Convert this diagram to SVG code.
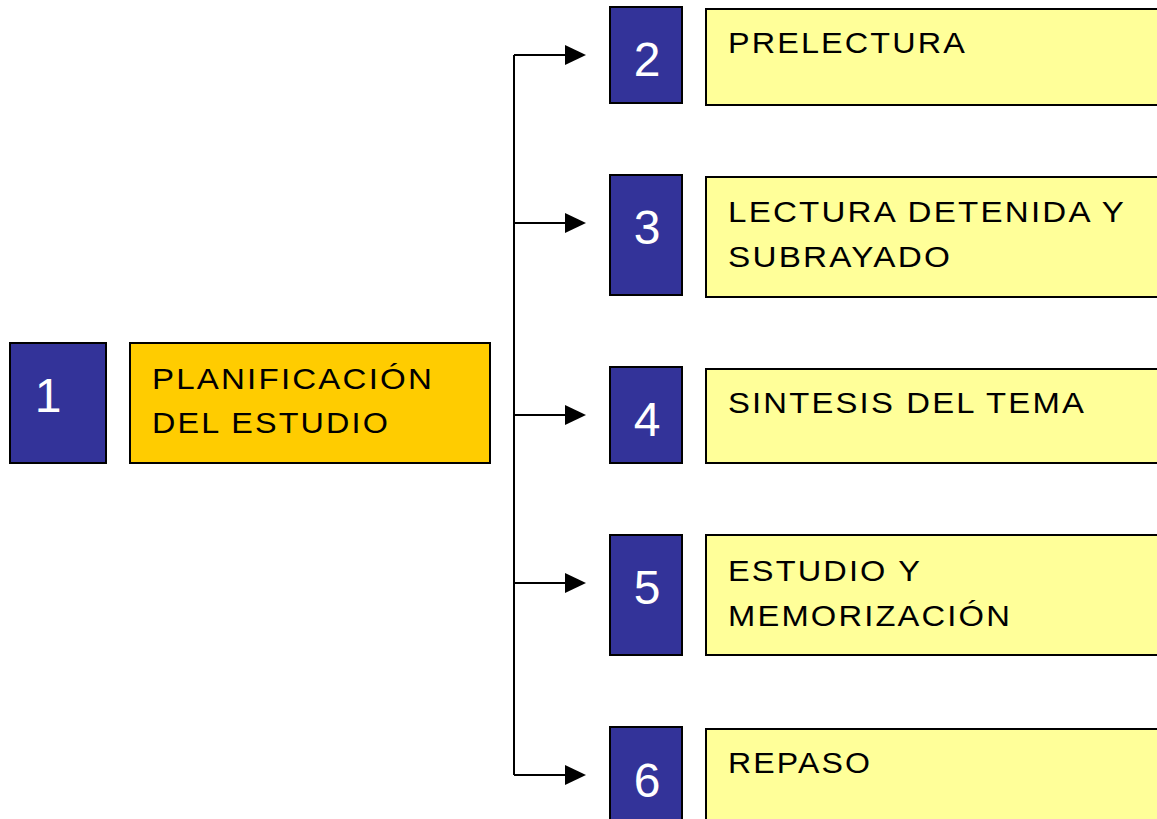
<svg xmlns="http://www.w3.org/2000/svg" width="1157" height="819" viewBox="0 0 1157 819">
<style>
.num{fill:#333399;stroke:#000;stroke-width:2}
.box{fill:#FFFF99;stroke:#000;stroke-width:2}
.main{fill:#FFCC00;stroke:#000;stroke-width:2}
.n{font-family:"Liberation Sans",Arial,sans-serif;font-size:48px;fill:#fff;text-anchor:middle}
.t{font-family:"Liberation Sans",Arial,sans-serif;font-size:30px;fill:#000;letter-spacing:2px}
.c{fill:none;stroke:#000;stroke-width:2}
</style>
<rect width="1157" height="819" fill="#fff"/>
<g id="connectors">
<path class="c" d="M514,55 V775"/>
<path class="c" d="M514,55 H566"/><path d="M565,45 L586,55 L565,65 z"/>
<path class="c" d="M514,223 H566"/><path d="M565,213 L586,223 L565,233 z"/>
<path class="c" d="M514,415 H566"/><path d="M565,405 L586,415 L565,425 z"/>
<path class="c" d="M514,583 H566"/><path d="M565,573 L586,583 L565,593 z"/>
<path class="c" d="M514,775 H566"/><path d="M565,765 L586,775 L565,785 z"/>
</g>
<g id="node1">
<rect class="num" x="10" y="343" width="96" height="120"/>
<text class="n" x="48" y="412">1</text>
<rect class="main" x="130" y="343" width="360" height="120"/>
<text class="t" x="152" y="389" textLength="282" lengthAdjust="spacingAndGlyphs">PLANIFICACIÓN</text>
<text class="t" x="152" y="433" textLength="238" lengthAdjust="spacingAndGlyphs">DEL ESTUDIO</text>
</g>
<g id="node2">
<rect class="num" x="610" y="7" width="72" height="96"/>
<text class="n" x="647" y="76">2</text>
<rect class="box" x="706" y="9" width="460" height="96"/>
<text class="t" x="728" y="53" textLength="239" lengthAdjust="spacingAndGlyphs">PRELECTURA</text>
</g>
<g id="node3">
<rect class="num" x="610" y="175" width="72" height="120"/>
<text class="n" x="647" y="244">3</text>
<rect class="box" x="706" y="177" width="460" height="120"/>
<text class="t" x="728" y="222" textLength="398" lengthAdjust="spacingAndGlyphs">LECTURA DETENIDA Y</text>
<text class="t" x="728" y="267" textLength="224" lengthAdjust="spacingAndGlyphs">SUBRAYADO</text>
</g>
<g id="node4">
<rect class="num" x="610" y="367" width="72" height="96"/>
<text class="n" x="647" y="436">4</text>
<rect class="box" x="706" y="369" width="460" height="94"/>
<text class="t" x="728" y="413" textLength="358" lengthAdjust="spacingAndGlyphs">SINTESIS DEL TEMA</text>
</g>
<g id="node5">
<rect class="num" x="610" y="535" width="72" height="120"/>
<text class="n" x="647" y="604">5</text>
<rect class="box" x="706" y="535" width="460" height="120"/>
<text class="t" x="728" y="581" textLength="194" lengthAdjust="spacingAndGlyphs">ESTUDIO Y</text>
<text class="t" x="728" y="626" textLength="284" lengthAdjust="spacingAndGlyphs">MEMORIZACIÓN</text>
</g>
<g id="node6">
<rect class="num" x="610" y="727" width="72" height="110"/>
<text class="n" x="647" y="797">6</text>
<rect class="box" x="706" y="729" width="460" height="110"/>
<text class="t" x="728" y="773" textLength="144" lengthAdjust="spacingAndGlyphs">REPASO</text>
</g>
</svg>
